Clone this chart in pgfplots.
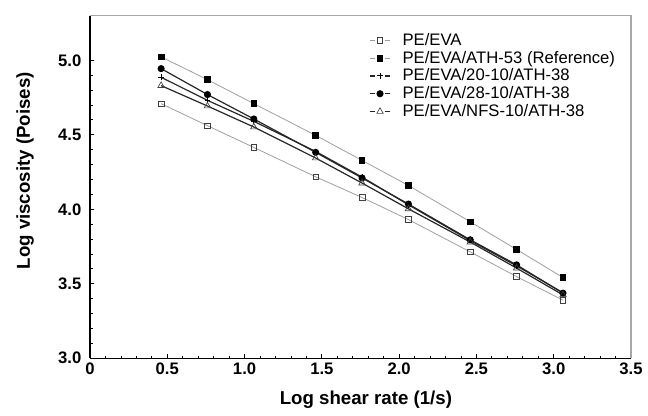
\documentclass[border=0pt]{standalone}
\usepackage{pgfplots}
\pgfplotsset{compat=1.18}
\usepackage{fontspec}
\setmainfont{Liberation Sans}
\begin{document}
\begin{tikzpicture}
\useasboundingbox (-67.5pt,-43.3pt) rectangle (418.5pt,268.7pt);
\begin{axis}[
  at={(0,0)}, anchor=south west,
  scale only axis, width=405.75pt, height=257pt,
  xmin=0, xmax=3.5, ymin=3.0, ymax=5.3,
  axis lines*=left,
  axis line style={line width=1pt, black},
  xtick={0,0.5,1.0,1.5,2.0,2.5,3.0,3.5},
  xticklabels={0,0.5,1.0,1.5,2.0,2.5,3.0,3.5},
  ytick={3.0,3.5,4.0,4.5,5.0},
  yticklabel={\pgfmathprintnumber[fixed,fixed zerofill,precision=1]{\tick}},
  minor x tick num=4, minor y tick num=4,
  tick align=inside,
  major tick length=3pt, minor tick length=2pt,
  tick style={black, line width=0.6pt},
  /pgf/number format/assume math mode=true,
  ticklabel style={font=\fontsize{12.5}{14}\selectfont\bfseries},
  yticklabel style={xshift=-3pt},
  xlabel={Log shear rate (1/s)},
  ylabel={Log viscosity (Poises)},
  label style={font=\fontsize{14}{16}\selectfont\bfseries},
  xlabel style={at={(axis description cs:0.51,-0.12)}, anchor=center},
  ylabel style={at={(axis description cs:-0.12,0.547)}, anchor=center, rotate=0},
  legend style={at={(axis description cs:0.516,0.957)}, anchor=north west,
    draw=none, fill=none, font=\fontsize{12.5}{13}\selectfont,
    row sep=-1.2pt, inner sep=0pt},
  legend cell align=left,
  legend image code/.code={
    \draw (0pt,0pt) -- (4pt,0pt) (11pt,0pt) -- (15pt,0pt);
    \draw plot[only marks] coordinates {(7.5pt,0pt)};
    \path (22pt,0pt);},
  after end axis/.code={\draw[gray!70, line width=0.8pt] (rel axis cs:0,1) -- (rel axis cs:1,1) -- (rel axis cs:1,0);},
]
\addplot[gray!75, line width=0.6pt, mark=square, mark size=2.1pt, mark options={draw=black!75, fill=white, line width=0.5pt}]
coordinates {(0.46,4.709)(0.76,4.561)(1.06,4.415)(1.46,4.218)(1.76,4.079)(2.06,3.931)(2.46,3.714)(2.76,3.548)(3.06,3.390)};
\addlegendentry{PE/EVA}
\addplot[gray!75, line width=0.6pt, mark=square*, mark size=2.1pt, mark options={draw=black, fill=black}]
coordinates {(0.46,5.023)(0.76,4.870)(1.06,4.709)(1.46,4.496)(1.76,4.328)(2.06,4.160)(2.46,3.916)(2.76,3.730)(3.06,3.542)};
\addlegendentry{PE/EVA/ATH-53 (Reference)}
\addplot[black!85, line width=0.9pt, mark=+, mark size=2.2pt, mark options={black, line width=0.7pt}]
coordinates {(0.46,4.886)(0.76,4.731)(1.06,4.590)(1.46,4.388)(1.76,4.216)(2.06,4.030)(2.46,3.790)(2.76,3.620)(3.06,3.440)};
\addlegendentry{PE/EVA/20-10/ATH-38}
\addplot[black!85, line width=0.9pt, mark=*, mark size=2.2pt, mark options={draw=black, fill=black}]
coordinates {(0.46,4.944)(0.76,4.770)(1.06,4.606)(1.46,4.382)(1.76,4.210)(2.06,4.035)(2.46,3.795)(2.76,3.627)(3.06,3.437)};
\addlegendentry{PE/EVA/28-10/ATH-38}
\addplot[black!85, line width=0.9pt, mark=triangle, mark size=2.8pt, mark options={draw=black!75, fill=white, line width=0.5pt}]
coordinates {(0.46,4.830)(0.76,4.693)(1.06,4.552)(1.46,4.344)(1.76,4.176)(2.06,4.003)(2.46,3.780)(2.76,3.605)(3.06,3.425)};
\addlegendentry{PE/EVA/NFS-10/ATH-38}
\end{axis}
\end{tikzpicture}
\end{document}
